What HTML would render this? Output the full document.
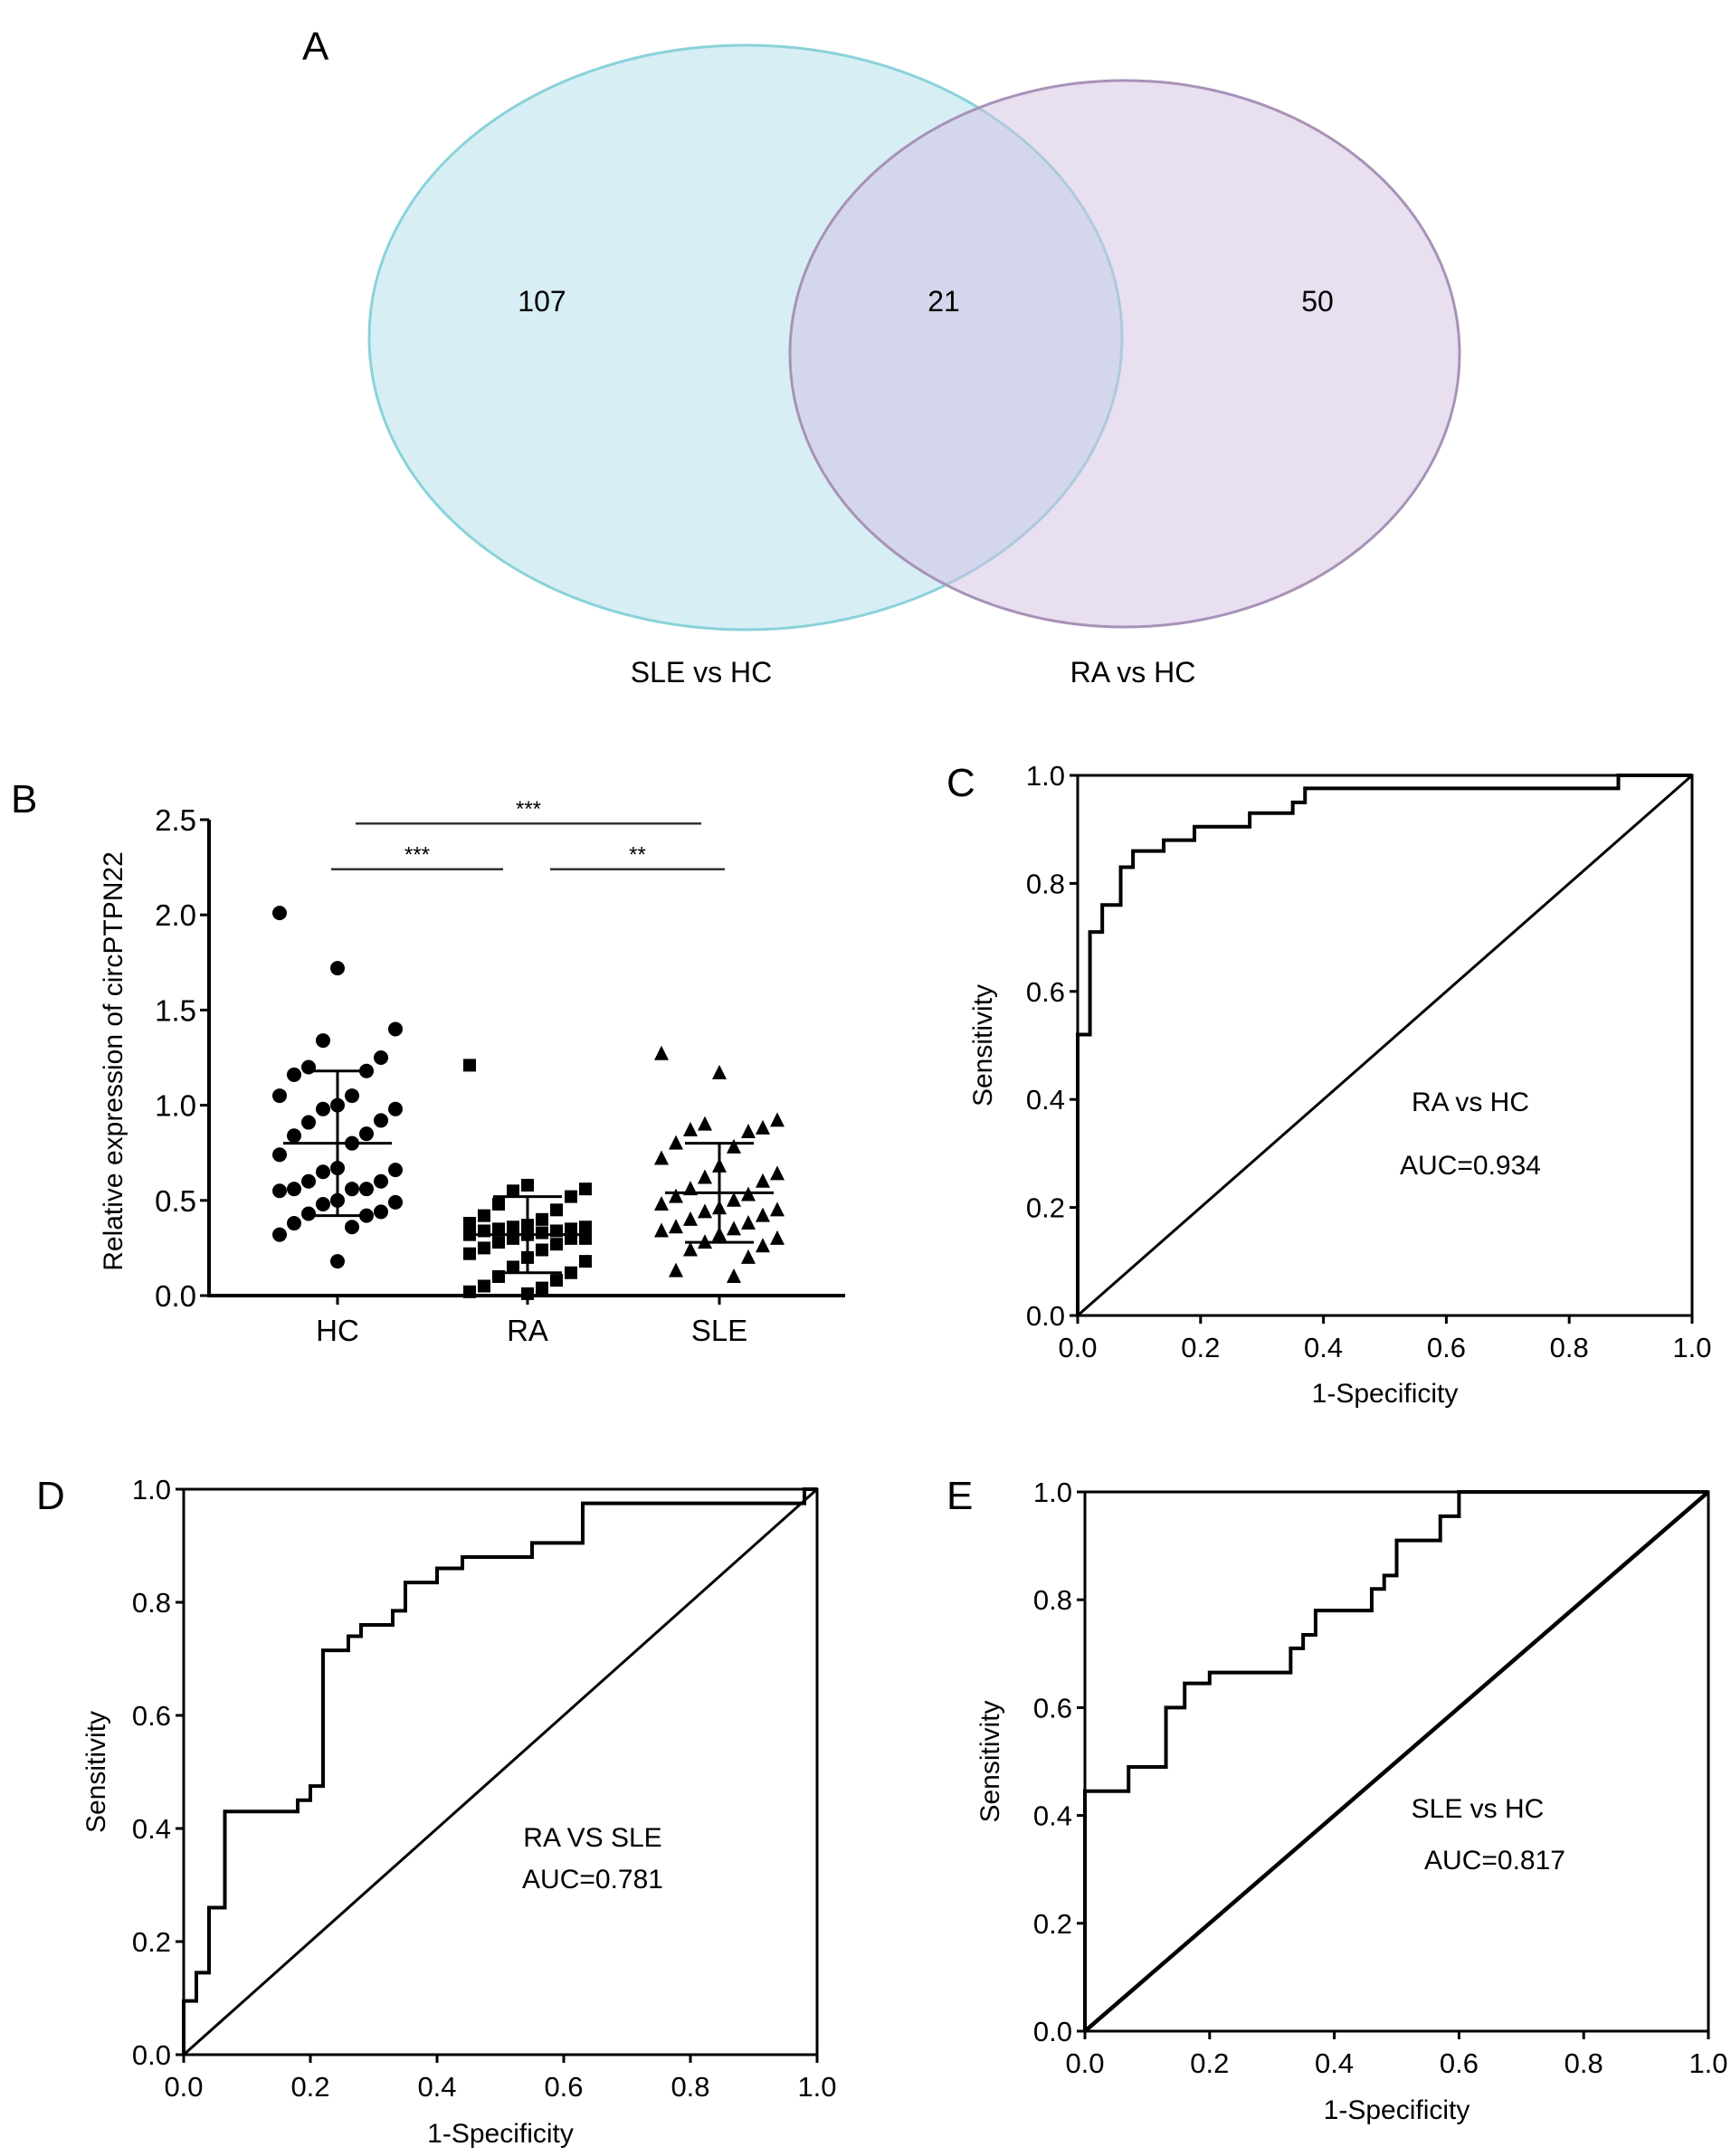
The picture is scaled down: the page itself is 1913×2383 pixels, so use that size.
<!DOCTYPE html>
<html><head><meta charset="utf-8">
<style>
body{margin:0;background:#fff;}
svg{display:block;font-family:"Liberation Sans",Arial,sans-serif;}
</style></head>
<body>
<svg id="fig" width="1913" height="2383" viewBox="0 0 1913 2383">
 <g>
  <text x="334" y="66" font-size="44">A</text>
  <ellipse cx="824" cy="373" rx="416" ry="323" fill="#d7eef5" stroke="#8ad2da" stroke-width="3"/>
  <ellipse cx="1243" cy="391" rx="370" ry="302" fill="#d1bfe1" fill-opacity="0.5" stroke="#a892b8" stroke-width="3"/>
  <text x="599" y="344" font-size="32" text-anchor="middle">107</text>
  <text x="1043" y="344" font-size="32" text-anchor="middle">21</text>
  <text x="1456" y="344" font-size="32" text-anchor="middle">50</text>
  <text x="775" y="754" font-size="32" text-anchor="middle">SLE vs HC</text>
  <text x="1252" y="754" font-size="32" text-anchor="middle">RA vs HC</text>
 </g>
 <g id="pb"></g>
 <g id="pc"></g>
 <g id="pd"></g>
 <g id="pe"></g>
</svg>
<script>
// ---- Panel B data ----
const groups = ["HC","RA","SLE"];
const hcValues = [2.01,1.72,1.40,1.34,1.25,1.20,1.18,1.16,1.05,1.05,1.00,0.98,0.98,0.92,0.91,0.85,0.84,0.80,0.74,0.67,0.66,0.65,0.60,0.60,0.56,0.56,0.56,0.55,0.50,0.49,0.48,0.44,0.43,0.42,0.38,0.36,0.32,0.18];
const raValues = [1.21,0.58,0.56,0.55,0.52,0.48,0.45,0.42,0.40,0.38,0.37,0.36,0.36,0.35,0.35,0.34,0.34,0.33,0.32,0.32,0.30,0.30,0.30,0.28,0.27,0.25,0.24,0.22,0.20,0.18,0.15,0.12,0.10,0.08,0.05,0.04,0.02,0.01];
const sleValues = [1.27,1.17,0.92,0.90,0.88,0.87,0.86,0.80,0.78,0.72,0.68,0.64,0.62,0.60,0.56,0.53,0.52,0.50,0.48,0.46,0.45,0.44,0.42,0.40,0.38,0.36,0.35,0.34,0.32,0.30,0.28,0.26,0.24,0.20,0.13,0.10];
const groupMeans = [0.80,0.32,0.54];
const groupSdLow = [0.42,0.12,0.28];
const groupSdHigh = [1.18,0.52,0.80];
const bTicks = [0,0.5,1.0,1.5,2.0,2.5];
const sigStars = ["***","***","**"];
const sigPairs = [[0,2],[0,1],[1,2]];
const sigLevels = [2.48,2.24,2.24];

// ---- ROC data ----
const rocTicks = [0,0.2,0.4,0.6,0.8,1.0];
const cFpr = [0,0,0.02,0.02,0.04,0.04,0.07,0.07,0.09,0.09,0.14,0.14,0.19,0.19,0.28,0.28,0.35,0.35,0.37,0.37,0.88,0.88,1];
const cTpr = [0,0.52,0.52,0.71,0.71,0.76,0.76,0.83,0.83,0.86,0.86,0.88,0.88,0.905,0.905,0.93,0.93,0.95,0.95,0.976,0.976,1,1];
const dFpr = [0,0,0.02,0.02,0.04,0.04,0.065,0.065,0.18,0.18,0.2,0.2,0.22,0.22,0.26,0.26,0.28,0.28,0.33,0.33,0.35,0.35,0.4,0.4,0.44,0.44,0.55,0.55,0.63,0.63,0.98,0.98,1];
const dTpr = [0,0.095,0.095,0.145,0.145,0.26,0.26,0.43,0.43,0.45,0.45,0.475,0.475,0.715,0.715,0.74,0.74,0.76,0.76,0.785,0.785,0.835,0.835,0.86,0.86,0.88,0.88,0.905,0.905,0.975,0.975,1,1];
const eFpr = [0,0,0.07,0.07,0.13,0.13,0.16,0.16,0.2,0.2,0.33,0.33,0.35,0.35,0.37,0.37,0.46,0.46,0.48,0.48,0.5,0.5,0.57,0.57,0.6,0.6,1];
const eTpr = [0,0.445,0.445,0.49,0.49,0.6,0.6,0.645,0.645,0.665,0.665,0.71,0.71,0.735,0.735,0.78,0.78,0.82,0.82,0.845,0.845,0.91,0.91,0.955,0.955,1,1];

const NS="http://www.w3.org/2000/svg";
function mk(parent,tag,attrs,text){const e=document.createElementNS(NS,tag);for(const k in attrs)e.setAttribute(k,attrs[k]);if(text!==undefined)e.textContent=text;parent.appendChild(e);return e;}

// Panel B
(function(){
 const g=document.getElementById('pb');
 const x0=231,x1=934,yTop=906,yBot=1432;
 const ys=v=>yBot-(v/2.5)*(yBot-yTop);
 const gx=[373,583,795];
 const xs=i=>gx[i];
 let t=mk(g,'text',{x:12,y:898,'font-size':44},'B');
 
 let l=mk(g,'line',{x1:x0,y1:yTop,x2:x0,y2:yBot+2,stroke:'#000','stroke-width':4});
 
 l=mk(g,'line',{x1:x0-2,y1:yBot,x2:x1,y2:yBot,stroke:'#000','stroke-width':4});
 
 bTicks.forEach(v=>{
  mk(g,'line',{x1:x0-10,y1:ys(v),x2:x0,y2:ys(v),stroke:'#000','stroke-width':3});
  t=mk(g,'text',{x:x0-14,y:ys(v)+12,'font-size':33,'text-anchor':'end'},v.toFixed(1));
  
 });
 t=mk(g,'text',{x:0,y:0,'font-size':30,'text-anchor':'middle',transform:'translate(135,1173) rotate(-90)'},'Relative expression of circPTPN22');
 
 groups.forEach((n,i)=>{
  mk(g,'line',{x1:xs(i),y1:yBot,x2:xs(i),y2:yBot+10,stroke:'#000','stroke-width':3});
  t=mk(g,'text',{x:xs(i),y:1482,'font-size':33,'text-anchor':'middle'},n);
  
 });
 const sets=[hcValues,raValues,sleValues];
 sets.forEach((vals,gi)=>{
  vals.forEach((v,i)=>{
   const off=((i*4)%9-4)*16;
   const cx=xs(gi)+off, cy=ys(v);
   let m;
   if(gi===0) m=mk(g,'circle',{cx:cx,cy:cy,r:8,fill:'#000'});
   else if(gi===1) m=mk(g,'rect',{x:cx-7,y:cy-7,width:14,height:14,fill:'#000'});
   else m=mk(g,'polygon',{points:`${cx},${cy-9} ${cx-8},${cy+7} ${cx+8},${cy+7}`,fill:'#000'});
   
   
  });
  const c=xs(gi);
  l=mk(g,'line',{x1:c-60,y1:ys(groupMeans[gi]),x2:c+60,y2:ys(groupMeans[gi]),stroke:'#000','stroke-width':3});
  
  mk(g,'line',{x1:c,y1:ys(groupSdLow[gi]),x2:c,y2:ys(groupSdHigh[gi]),stroke:'#000','stroke-width':3});
  mk(g,'line',{x1:c-38,y1:ys(groupSdLow[gi]),x2:c+38,y2:ys(groupSdLow[gi]),stroke:'#000','stroke-width':3});
  mk(g,'line',{x1:c-38,y1:ys(groupSdHigh[gi]),x2:c+38,y2:ys(groupSdHigh[gi]),stroke:'#000','stroke-width':3});
 });
 sigPairs.forEach((p,i)=>{
  const a=xs(p[0])+(i===1?-7:(i===0?20:25)), b=xs(p[1])+(i===1?-27:(i===0?-20:6));
  l=mk(g,'line',{x1:a,y1:ys(sigLevels[i]),x2:b,y2:ys(sigLevels[i]),stroke:'#333','stroke-width':2.5});
  
  t=mk(g,'text',{x:(a+b)/2,y:ys(sigLevels[i])-8,'font-size':24,'text-anchor':'middle'},sigStars[i]);
  
 });
})();

function roc(id,box,fpr,tpr,letter,lp,labels,lpos,xtitleY,ytitleX,diagW){
 const g=document.getElementById(id);
 const [x0,yTop,x1,yBot]=box;
 const xs=v=>x0+v*(x1-x0), ys=v=>yBot-v*(yBot-yTop);
 let t=mk(g,'text',{x:lp[0],y:lp[1],'font-size':44},letter);
 
 let r=mk(g,'rect',{x:x0,y:yTop,width:x1-x0,height:yBot-yTop,fill:'none',stroke:'#000','stroke-width':3});
 
 rocTicks.forEach(v=>{
  mk(g,'line',{x1:xs(v),y1:yBot,x2:xs(v),y2:yBot+9,stroke:'#000','stroke-width':3});
  mk(g,'line',{x1:x0-9,y1:ys(v),x2:x0,y2:ys(v),stroke:'#000','stroke-width':3});
  t=mk(g,'text',{x:xs(v),y:yBot+46,'font-size':31,'text-anchor':'middle'},v.toFixed(1));
  
  t=mk(g,'text',{x:x0-14,y:ys(v)+11,'font-size':31,'text-anchor':'end'},v.toFixed(1));
  
 });
 t=mk(g,'text',{x:(x0+x1)/2,y:xtitleY,'font-size':30,'text-anchor':'middle'},'1-Specificity');
 
 t=mk(g,'text',{x:0,y:0,'font-size':30,'text-anchor':'middle',transform:`translate(${ytitleX},${(yTop+yBot)/2}) rotate(-90)`},'Sensitivity');
 
 let d=mk(g,'line',{x1:xs(0),y1:ys(0),x2:xs(1),y2:ys(1),stroke:'#000','stroke-width':diagW});
 
 const pts=fpr.map((f,i)=>xs(f)+','+ys(tpr[i])).join(' ');
 let p=mk(g,'polyline',{points:pts,fill:'none',stroke:'#000','stroke-width':4});
 
 labels.forEach((s,i)=>{
  t=mk(g,'text',{x:lpos[i][0],y:lpos[i][1],'font-size':30,'text-anchor':'middle'},s);
  
 });
}
roc('pc',[1191,857,1870,1454],cFpr,cTpr,'C',[1046,880],['RA vs HC','AUC=0.934'],[[1625,1228],[1625,1298]],1550,1096,3);
roc('pd',[203,1646,903,2271],dFpr,dTpr,'D',[40,1668],['RA VS SLE','AUC=0.781'],[[655,2041],[655,2087]],2368,116,3);
roc('pe',[1199,1649,1888,2245],eFpr,eTpr,'E',[1046,1668],['SLE vs HC','AUC=0.817'],[[1633,2009],[1652,2066]],2342,1104,4.5);
</script>
</body></html>
